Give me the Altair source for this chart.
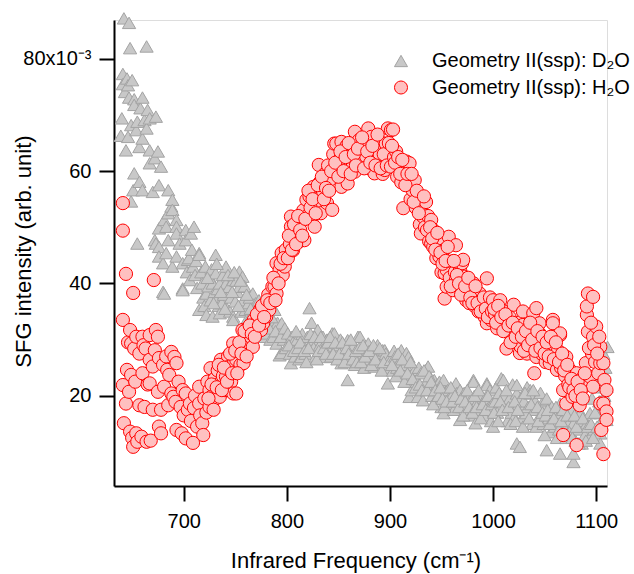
import altair as alt
import pandas as pd

FONT = "Liberation Sans"

x_ticks = [700, 800, 900, 1000, 1100]
y_ticks = [20, 40, 60, 80]
x_domain = [632.4, 1110.5]
y_domain = [3.92, 86.91]  # in units of 1e-3

LAB_D = "Geometry II(ssp): D\u2082O"
LAB_H = "Geometry II(ssp): H\u2082O"

# (frequency cm-1, SFG intensity x1e-3)
d2o_640_700 = [(639,66.3),(640,69.4),(641,77.3),(641,75.5),(642,87.2),(643,74.1),(644,63.7),(645,76.5),(646,66.1),(646,75.3),(647,86.4),(647,73.1),(648,81.9),(649,68.2),(649,54.6),(650,76.2),(651,56.6),(652,72.8),(652,71.8),(652,59.6),(654,67.3),(655,68.8),(655,47.1),(657,64.3),(657,58.1),(658,71.2),(660,73.1),(660,65.8),(660,56.6),(662,69.1),(664,67.6),(664,82.2),(665,70.9),(667,69.4),(667,63.7),(667,61.4),(670,56.3),(672,62.3),(672,47.7),(673,69.7),(673,47.1),(675,63.5),(676,57.5),(676,49.8),(676,46.5),(676,44.8),(678,60.8),(680,43.6),(680,38.5),(681,51.3),(681,38.2),(683,50.1),(683,45.4),(685,56.6),(685,52.5),(685,47.7),(688,53.7),(689,54.9),(689,53.1),(689,43.0),(693,51.3),(693,50.1),(693,48.9),(693,44.8),(696,47.1),(699,43.6),(699,39.1),(699,38.8)]
d2o_700_800 = [(702,49.5),(702,47.7),(703,42.0),(704,44.2),(705,44.5),(706,40.6),(707,48.9),(708,46.0),(709,43.0),(710,50.1),(711,41.5),(712,44.0),(713,39.2),(715,45.4),(715,45.1),(715,35.3),(717,42.0),(718,40.0),(719,37.5),(720,36.0),(721,43.0),(722,38.2),(722,34.4),(724,39.5),(725,41.2),(726,37.0),(727,42.5),(728,40.0),(728,34.1),(730,38.5),(731,45.1),(731,41.8),(731,37.0),(733,39.0),(734,36.0),(735,40.0),(735,34.7),(737,36.5),(738,41.5),(739,38.0),(741,43.0),(741,40.0),(742,35.5),(744,39.4),(745,35.0),(746,37.5),(748,40.6),(748,34.1),(748,33.5),(750,36.8),(751,40.5),(752,38.5),(754,42.1),(754,39.4),(756,35.0),(757,41.2),(758,37.0),(759,39.5),(760,35.3),(762,33.8),(763,36.5),(764,37.5),(766,34.5),(767,38.2),(768,35.5),(769,32.5),(770,36.5),(772,34.0),(773,37.0),(774,31.5),(776,35.0),(777,30.5),(778,33.0),(780,31.1),(781,33.5),(782,34.5),(784,30.0),(786,32.5),(787,30.5),(788,35.3),(790,29.3),(791,33.0),(792,31.5),(793,27.2),(795,32.9),(795,27.6),(797,30.0),(799,28.5)]
d2o_700_800_more = [(723,41.0),(729,36.5),(732,43.5),(736,38.5),(740,35.5),(743,41.5),(747,38.5),(749,42.0),(753,36.0),(755,40.5),(761,38.0),(765,35.5),(771,33.0),(775,36.5),(779,34.5),(783,32.0),(785,34.0),(789,31.5),(794,30.5),(798,32.0)]
d2o_800_900 = [(801,31.1),(803,27.5),(804,25.8),(805,30.5),(806,29.5),(808,27.0),(810,30.0),(812,26.5),(814,26.9),(815,31.0),(816,29.0),(818,27.5),(820,30.5),(822,35.6),(824,33.0),(825,30.0),(826,28.5),(828,27.0),(830,31.7),(832,29.0),(834,27.5),(835,30.5),(837,26.9),(839,30.0),(841,28.0),(843,27.0),(844,31.1),(846,31.1),(848,27.5),(850,29.0),(852,30.0),(853,25.8),(855,28.5),(857,27.0),(859,29.9),(859,22.8),(861,26.5),(863,28.0),(865,29.0),(866,25.5),(869,30.5),(871,30.5),(873,27.0),(875,25.0),(877,28.5),(878,26.5),(879,29.3),(881,26.5),(883,27.5),(885,25.2),(887,28.0),(888,29.0),(889,26.0),(891,27.5),(893,28.1),(895,28.1),(896,27.5),(897,25.0),(898,22.2),(899,26.5)]
d2o_800_900_more = [(802,29.0),(807,28.0),(809,31.5),(811,28.5),(813,29.5),(817,28.0),(819,26.0),(821,28.5),(823,31.0),(827,30.5),(829,26.5),(831,28.0),(833,30.5),(836,28.5),(838,27.5),(840,29.5),(842,30.5),(845,27.5),(847,29.5),(849,26.5),(851,27.5),(854,29.5),(856,26.0),(858,28.5),(860,27.5),(862,30.0),(864,26.5),(867,28.0),(868,26.0),(870,28.5),(872,26.0),(874,29.0),(876,27.0),(880,28.0),(882,25.5),(884,29.0),(886,26.5),(890,28.5),(892,24.5),(894,26.0)]
d2o_900_1000 = [(901,26.4),(903,24.5),(904,28.0),(905,27.0),(907,25.0),(909,26.0),(911,28.1),(913,24.0),(915,25.5),(916,27.6),(918,26.9),(919,19.8),(921,21.0),(923,23.5),(924,24.6),(926,22.5),(927,19.8),(928,25.0),(930,24.0),(932,19.2),(934,22.0),(935,24.6),(937,25.2),(939,21.5),(941,20.0),(943,22.8),(945,19.5),(946,22.0),(948,22.5),(950,18.0),(952,22.8),(952,16.9),(954,20.5),(956,21.0),(957,19.5),(958,18.5),(960,20.0),(962,17.5),(964,22.2),(965,20.5),(966,19.0),(968,21.0),(968,15.7),(970,18.0),(972,20.5),(974,17.0),(976,19.5),(978,16.5),(979,19.5),(981,22.8),(981,22.5),(983,15.1),(985,19.0),(987,17.5),(989,20.0),(991,16.5),(992,19.5),(994,22.2),(994,21.9),(996,18.0),(997,21.0),(998,15.5)]
d2o_900_1000_more = [(902,25.5),(906,23.5),(908,27.5),(910,24.5),(912,26.5),(914,22.5),(917,24.0),(920,26.0),(922,23.0),(925,21.5),(929,22.0),(931,21.0),(933,24.5),(936,21.0),(938,23.5),(940,22.5),(942,18.5),(944,21.0),(947,20.0),(949,21.5),(951,19.5),(953,18.0),(955,19.0),(959,21.5),(961,19.0),(963,20.0),(967,18.0),(969,19.5),(971,16.5),(973,19.0),(975,21.0),(977,18.0),(980,17.0),(982,20.0),(984,18.0),(986,21.0),(988,16.0),(990,18.5),(993,17.5),(995,20.0),(999,18.5)]
d2o_1000_1111 = [(1000,14.5),(1002,19.0),(1003,21.5),(1004,17.0),(1006,20.5),(1008,23.1),(1010,22.8),(1011,20.0),(1012,18.0),(1014,15.5),(1016,19.5),(1018,17.0),(1019,22.0),(1020,16.0),(1023,20.4),(1023,21.9),(1023,11.5),(1025,18.5),(1026,10.9),(1027,19.5),(1028,16.0),(1030,19.0),(1032,16.9),(1033,21.5),(1034,18.0),(1036,21.0),(1036,20.4),(1038,15.0),(1040,17.5),(1041,19.0),(1042,14.5),(1045,16.3),(1046,20.5),(1047,18.5),(1049,15.0),(1052,19.2),(1052,19.5),(1052,10.3),(1054,16.0),(1056,13.5),(1057,18.0),(1058,17.0),(1060,14.5),(1062,12.5),(1063,17.0),(1065,18.6),(1065,16.9),(1065,9.7),(1067,14.0),(1069,16.0),(1070,18.5),(1071,12.5),(1073,15.0),(1075,13.0),(1076,17.5),(1078,15.1),(1078,8.2),(1078,9.7),(1080,12.0),(1082,14.0),(1084,14.5),(1085,17.0),(1086,11.5),(1088,15.5),(1089,13.0),(1091,15.1),(1094,16.9),(1094,12.7),(1096,19.5),(1098,14.0),(1100,22.0),(1102,17.5),(1104,16.9),(1104,15.1),(1104,13.3),(1104,11.5),(1106,24.0),(1107,27.5),(1108,20.0),(1110,15.7),(1110,21.6),(1111,28.7)]
d2o_1000_1111_more = [(1001,17.0),(1005,15.5),(1007,19.0),(1009,17.5),(1013,21.0),(1015,18.0),(1017,15.0),(1021,19.0),(1022,15.5),(1024,17.5),(1029,14.5),(1031,20.5),(1035,16.0),(1037,18.5),(1039,21.0),(1043,18.0),(1044,15.5),(1048,17.0),(1050,13.0),(1051,16.5),(1053,17.5),(1055,15.0),(1059,16.0),(1061,18.0),(1064,14.0),(1066,15.5),(1068,17.5),(1072,16.5),(1074,13.5),(1077,12.5),(1079,16.5),(1081,14.5),(1083,11.5),(1087,16.0),(1090,12.0),(1092,14.5),(1095,15.0),(1097,12.5),(1099,17.0),(1101,14.5),(1103,19.0),(1105,21.5),(1109,25.0)]

h2o_640_720 = [(641,54.3),(641,49.4),(641,33.5),(641,21.9),(642,15.1),(644,41.7),(644,18.6),(645,24.6),(646,29.5),(647,20.7),(648,13.6),(648,31.7),(649,23.7),(649,29.3),(650,12.5),(651,10.9),(651,38.3),(652,28.4),(653,22.5),(654,30.5),(654,13.3),(655,11.8),(657,18.3),(657,27.5),(659,12.7),(660,30.5),(660,24.0),(661,29.0),(662,18.0),(663,28.4),(664,11.8),(665,22.0),(667,30.8),(667,26.4),(667,22.2),(668,12.0),(670,17.5),(670,25.2),(671,40.6),(672,28.1),(673,31.7),(675,30.5),(675,20.7),(676,26.7),(676,14.5),(678,17.5),(678,13.3),(680,25.5),(681,21.6),(683,27.0),(684,24.6),(685,18.3),(686,23.7),(688,27.8),(688,20.4),(690,19.8),(691,26.9),(692,18.9),(693,25.8),(693,13.9),(695,22.5),(697,18.0),(698,13.3),(699,21.0),(700,16.5),(702,20.4),(702,12.4),(704,17.5),(706,18.6),(707,15.5),(709,11.6),(710,17.8),(711,20.0),(713,14.5),(715,18.6),(715,21.6),(716,16.5),(718,15.1),(719,13.0),(720,19.5)]
h2o_720_800 = [(722,17.0),(723,22.5),(725,21.0),(725,18.0),(726,24.9),(728,20.0),(730,23.0),(731,19.5),(733,24.5),(735,22.2),(735,19.8),(736,26.4),(738,23.5),(740,21.0),(741,23.4),(743,27.0),(744,25.2),(746,22.5),(748,29.3),(748,20.4),(749,26.0),(751,26.4),(751,20.4),(753,28.0),(755,25.5),(757,27.6),(757,31.7),(758,25.8),(760,29.5),(762,32.0),(763,29.3),(765,30.5),(767,28.7),(768,33.5),(770,31.1),(772,34.0),(774,35.3),(775,31.7),(777,32.9),(779,36.5),(780,34.1),(782,38.0),(783,35.3),(785,37.0),(786,39.4),(788,39.4),(790,38.2),(790,43.6),(791,41.0),(793,42.4),(795,45.4),(796,41.5),(798,43.0),(799,46.0)]
h2o_720_800_more = [(724,19.5),(727,22.0),(729,17.5),(732,21.5),(734,25.5),(737,21.0),(739,25.0),(742,22.5),(745,27.5),(747,24.0),(750,28.0),(752,24.0),(754,29.5),(756,27.5),(759,31.5),(761,27.0),(764,32.5),(766,31.0),(769,30.5),(771,34.5),(773,32.5),(776,36.0),(778,34.0),(781,37.0),(784,36.5),(787,41.0),(789,37.0),(792,40.0),(794,43.5),(797,44.5)]
h2o_800_900 = [(801,44.5),(803,47.0),(804,51.9),(804,50.1),(806,45.9),(808,48.5),(810,50.0),(812,47.5),(814,51.0),(816,53.0),(817,47.7),(819,54.9),(820,52.0),(822,55.5),(824,51.5),(826,57.2),(827,50.1),(829,54.0),(831,61.1),(832,58.0),(833,52.5),(835,56.5),(837,59.5),(839,54.3),(840,61.0),(842,58.5),(844,53.1),(845,63.0),(846,64.9),(848,64.9),(849,60.0),(851,62.0),(853,57.2),(853,65.2),(854,63.2),(856,61.5),(858,64.5),(859,57.8),(861,62.5),(863,60.5),(864,64.0),(866,59.9),(866,67.0),(868,63.0),(870,65.5),(871,61.5),(872,64.3),(874,62.0),(876,64.5),(877,62.6),(879,67.6),(880,60.5),(882,66.1),(884,62.0),(885,63.8),(885,59.6),(887,64.3),(889,61.5),(890,63.0),(892,65.0),(893,59.5),(895,60.2),(896,64.9),(898,67.6),(899,62.0)]
h2o_800_900_more = [(802,48.5),(805,46.0),(807,50.5),(809,47.0),(811,52.0),(813,49.5),(815,48.5),(818,51.5),(821,56.5),(823,53.5),(825,55.0),(828,52.5),(830,57.5),(834,59.0),(836,55.0),(838,57.0),(841,56.5),(843,60.0),(847,61.5),(850,59.0),(852,63.5),(855,60.0),(857,62.5),(860,65.0),(862,59.5),(865,63.0),(867,61.0),(869,64.0),(873,66.0),(875,60.5),(878,63.5),(881,61.5),(883,64.5),(886,61.0),(888,66.5),(891,60.5),(894,63.0),(897,61.0),(899,65.0)]
h2o_900_1000 = [(901,67.3),(901,60.8),(903,67.4),(904,62.5),(906,63.5),(907,59.0),(909,61.5),(911,58.0),(913,53.4),(914,60.5),(916,61.7),(918,57.5),(919,61.4),(920,55.0),(922,56.6),(924,58.4),(925,53.5),(927,55.0),(929,50.5),(930,48.9),(931,54.0),(932,51.9),(934,50.0),(935,54.5),(937,52.0),(938,47.5),(940,51.3),(940,47.1),(942,46.5),(942,49.5),(943,48.9),(945,44.5),(947,46.5),(948,47.7),(948,44.8),(950,42.0),(952,45.9),(953,37.3),(953,41.8),(955,39.4),(955,42.4),(957,48.3),(958,41.0),(960,43.9),(961,38.8),(963,42.0),(964,46.8),(964,40.6),(966,39.5),(968,42.5),(970,43.6),(971,44.2),(972,41.2),(974,37.0),(975,39.5),(977,36.5),(979,38.5),(981,40.0),(982,36.0),(984,38.0),(986,35.0),(987,38.2),(989,36.5),(990,35.9),(992,34.0),(994,40.9),(994,32.9),(996,36.0),(998,33.5)]
h2o_900_1000_more = [(902,64.5),(905,61.5),(908,62.5),(910,59.5),(912,62.0),(915,57.5),(917,59.5),(921,59.5),(923,54.5),(926,56.5),(928,52.5),(933,55.5),(936,49.5),(939,50.0),(941,48.0),(944,46.0),(946,49.0),(949,45.5),(951,43.5),(954,44.0),(956,46.5),(959,39.5),(962,44.0),(965,41.5),(967,40.0),(969,38.0),(973,39.5),(976,41.0),(978,37.5),(980,36.5),(983,39.5),(985,36.5),(988,35.0),(991,37.5),(993,35.5),(995,34.0),(997,37.5),(999,35.0)]
h2o_1000_1110 = [(1000,37.0),(1002,34.5),(1004,32.0),(1006,34.7),(1007,37.0),(1009,33.0),(1011,35.0),(1013,32.3),(1013,28.4),(1014,31.7),(1016,34.0),(1018,30.5),(1020,36.2),(1021,32.0),(1023,29.5),(1025,33.0),(1026,27.6),(1027,28.7),(1029,35.0),(1029,32.6),(1031,30.0),(1033,27.5),(1035,31.0),(1037,28.5),(1039,34.7),(1040,24.0),(1042,35.6),(1042,26.9),(1044,29.5),(1045,32.9),(1045,31.1),(1047,27.5),(1049,30.0),(1051,26.0),(1053,28.5),(1055,25.8),(1057,29.0),(1058,33.5),(1058,32.9),(1058,30.5),(1060,27.0),(1062,24.6),(1063,28.0),(1065,30.8),(1065,31.1),(1066,25.0),(1068,21.0),(1068,13.0),(1070,23.5),(1071,26.9),(1071,18.6),(1073,22.0),(1075,24.5),(1077,19.8),(1079,22.5),(1081,24.0),(1081,11.2),(1083,20.5),(1084,19.2),(1084,18.3),(1086,23.0),(1088,21.6),(1090,25.8),(1091,34.4),(1091,35.9),(1092,31.4),(1092,38.2),(1094,23.4),(1096,27.5),(1097,37.6),(1097,30.5),(1097,21.6),(1099,26.0),(1100,32.3),(1102,24.0),(1104,28.7),(1104,25.8),(1104,18.6),(1105,13.9),(1107,25.8),(1107,18.6),(1107,9.6),(1108,22.8),(1110,21.0),(1110,17.2),(1110,15.7)]
h2o_1000_1110_more = [(1001,35.5),(1003,33.0),(1005,36.0),(1008,34.0),(1010,31.5),(1012,34.5),(1015,32.5),(1017,29.5),(1019,33.0),(1022,30.5),(1024,32.0),(1028,30.5),(1030,28.0),(1032,31.5),(1034,29.0),(1036,33.0),(1038,30.0),(1041,28.0),(1043,31.5),(1046,28.5),(1048,30.5),(1050,27.5),(1052,29.5),(1054,27.0),(1056,30.5),(1059,26.5),(1061,29.5),(1064,26.0),(1067,27.5),(1069,24.5),(1072,25.5),(1074,21.5),(1076,23.0),(1078,21.0),(1080,20.0),(1082,22.5),(1085,21.0),(1087,19.5),(1089,24.0),(1093,28.5),(1095,33.0),(1098,29.0),(1101,27.5),(1103,30.5)]

rows = []
for chunk in [d2o_640_700, d2o_700_800, d2o_700_800_more, d2o_800_900, d2o_800_900_more,
              d2o_900_1000, d2o_900_1000_more, d2o_1000_1111, d2o_1000_1111_more]:
    for f, v in chunk:
        rows.append({"freq": f, "sfg": v, "series": LAB_D})
for chunk in [h2o_640_720, h2o_720_800, h2o_720_800_more, h2o_800_900, h2o_800_900_more,
              h2o_900_1000, h2o_900_1000_more, h2o_1000_1110, h2o_1000_1110_more]:
    for f, v in chunk:
        rows.append({"freq": f, "sfg": v, "series": LAB_H})
df = pd.DataFrame(rows)

dom = [LAB_D, LAB_H]
leg = alt.Legend(
    title=None, orient="none", legendX=277, legendY=31, padding=0,
    labelFont=FONT, labelFontSize=20, labelColor="black", labelOffset=21,
    labelLimit=400, symbolSize=170, symbolStrokeWidth=1, rowPadding=6.5,
)

axis_common = dict(
    grid=False, domainColor="black", domainWidth=2, tickColor="black",
    tickWidth=2, tickSize=15, labelFont=FONT, labelFontSize=20, labelColor="black",
    titleFont=FONT, titleFontSize=22, titleFontWeight="normal", titleColor="black",
)

chart = alt.Chart(df).mark_point(
    filled=True, opacity=1, fillOpacity=1, strokeWidth=1, size=175
).encode(
    x=alt.X("freq:Q",
            scale=alt.Scale(domain=x_domain, nice=False, zero=False),
            axis=alt.Axis(values=x_ticks, format="d", title="Infrared Frequency (cm\u207b\u00b9)",
                          labelPadding=10, labelFlush=False,
                          titleX=241.5, titleY=81, titleBaseline="alphabetic",
                          titleAlign="center", **axis_common)),
    y=alt.Y("sfg:Q",
            scale=alt.Scale(domain=y_domain, nice=False, zero=False),
            axis=alt.Axis(values=y_ticks, title="SFG intensity (arb. unit)",
                          labelPadding=8, labelFlush=False,
                          labelExpr="datum.value == 80 ? '80x10\u207b\u00b3' : datum.label",
                          titleX=-84, titleY=231, titleAngle=270,
                          titleBaseline="alphabetic", titleAlign="center",
                          **axis_common)),
    shape=alt.Shape("series:N", scale=alt.Scale(domain=dom, range=["triangle-up", "circle"]), legend=leg),
    fill=alt.Fill("series:N", scale=alt.Scale(domain=dom, range=["#c8c8c8", "#ffc0c0"]), legend=leg),
    stroke=alt.Stroke("series:N", scale=alt.Scale(domain=dom, range=["#a3a3a3", "#ff0000"]), legend=leg),
).properties(
    width=493, height=466,
    autosize=alt.AutoSizeParams(type="none"),
    padding={"left": 114, "top": 20, "right": 27, "bottom": 88},
).configure_view(stroke=None).configure(background="white")

chart.save("out.html", embed_options={"renderer": "svg", "actions": False})
